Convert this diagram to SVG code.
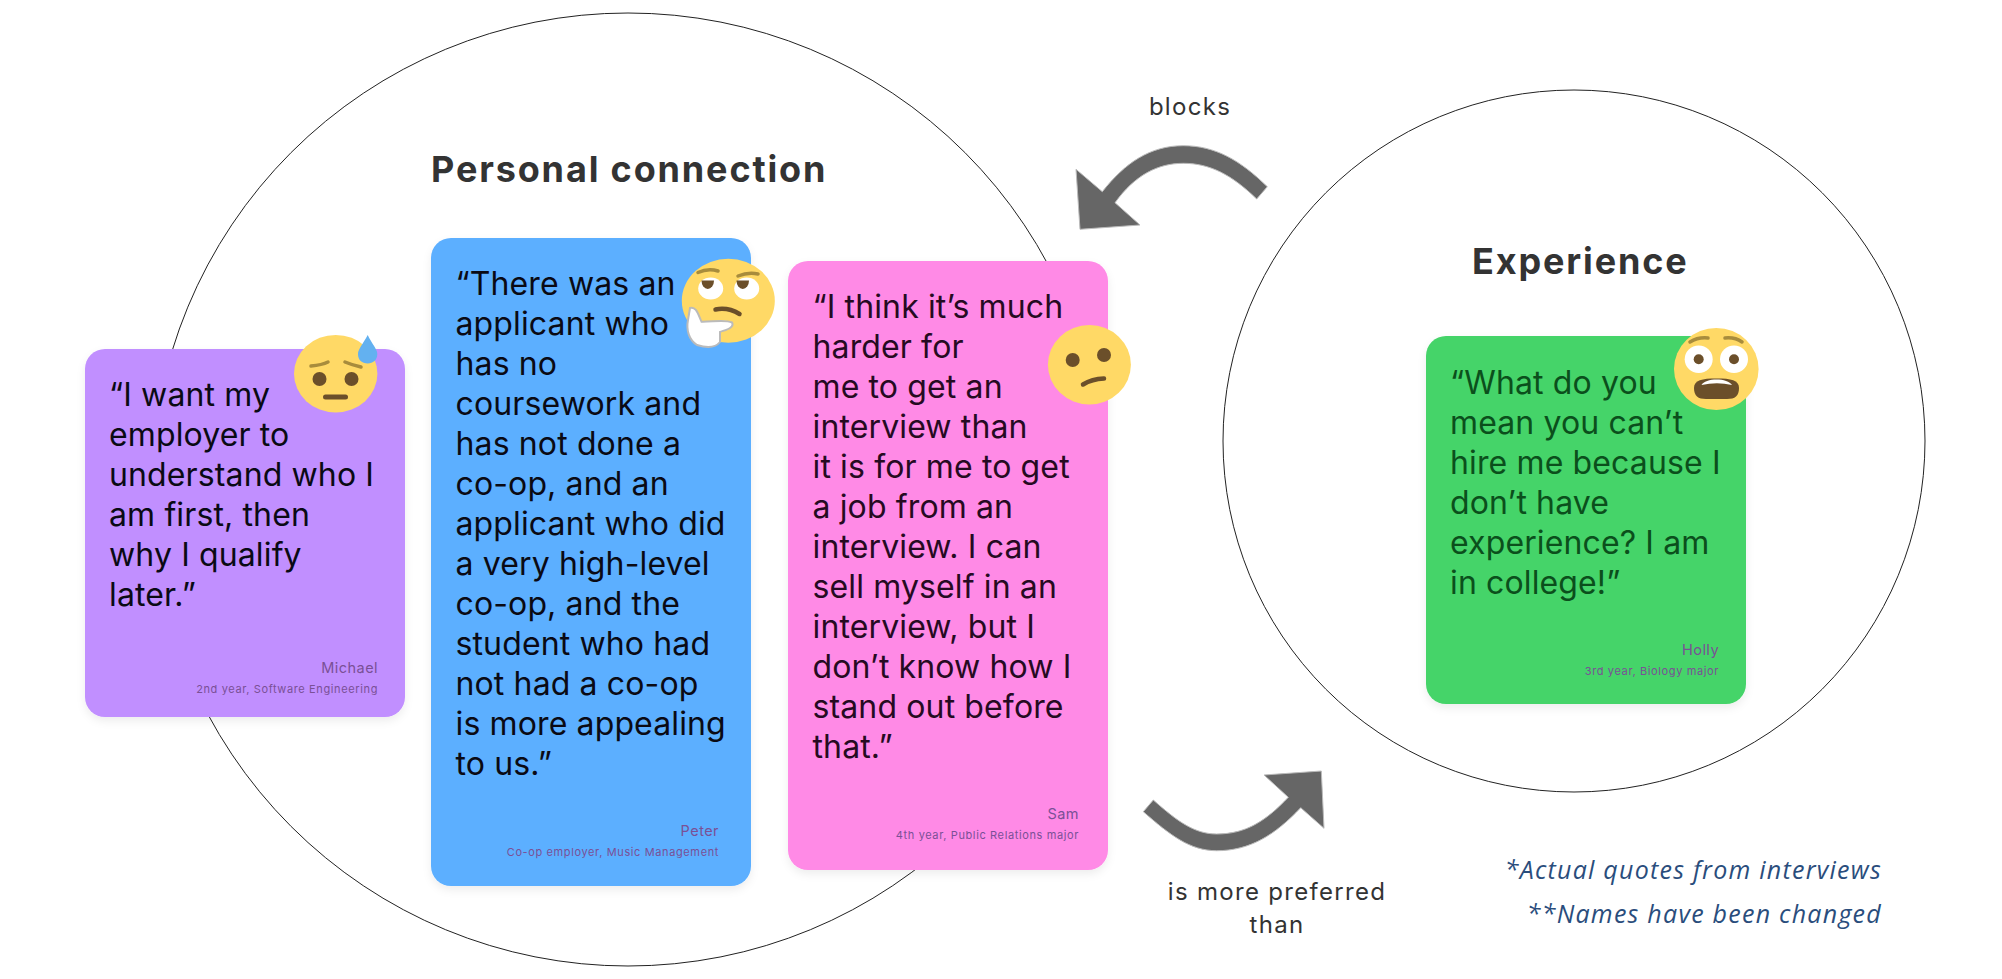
<svg xmlns="http://www.w3.org/2000/svg" width="2002" height="979" viewBox="0 0 2002 979">
<style>
.ring{fill:#fff;stroke:#222;stroke-width:1}
.card{filter:url(#sh)}
.q{font:32px "Inter","Liberation Sans",sans-serif;letter-spacing:.13px}
.n{font:14.5px "Inter","Liberation Sans",sans-serif;fill:#7a5096;text-anchor:end;letter-spacing:.45px}
.s{font:11px "Inter","Liberation Sans",sans-serif;fill:#7a5096;text-anchor:end;letter-spacing:.62px}
.t{font:700 36px "Inter","Liberation Sans",sans-serif;fill:#333;letter-spacing:1.85px}
.l{font:24px "Inter","Liberation Sans",sans-serif;fill:#333;text-anchor:middle;letter-spacing:1.3px}
.f{font:italic 25px "Open Sans","Liberation Sans",sans-serif;fill:#2a4d7c;text-anchor:end;letter-spacing:1.25px}
.arrow{fill:#666;stroke:#bbb;stroke-width:1}
.face{fill:#ffd966}
.eye{fill:#6b4f2a}
.brow{fill:none;stroke:#a88c3c;stroke-width:3.500;stroke-linecap:round}
</style>
<defs><filter id="sh" x="-10%" y="-10%" width="120%" height="120%"><feDropShadow dx="0" dy="4" stdDeviation="4" flood-color="#000" flood-opacity=".07"/></filter></defs>
<rect width="2002" height="979" fill="#fff"/>
<g id="personal-connection">
<circle class="ring" cx="628" cy="489.500" r="476.500"/>
<text class="t" x="431" y="182">Personal connection</text>
</g>
<g id="experience">
<circle class="ring" cx="1574" cy="441" r="351"/>
<text class="t" x="1472" y="274">Experience</text>
</g>
<g id="connectors">
<path class="arrow" d="M1267.3 186.7L1256.7 199C1232 175 1210 163.300 1183.300 163.300C1158 163.300 1135 175 1115 202.700L1140 225L1080 229.300L1076 169.300L1102.300 191.700C1125 163 1150 145.700 1183.300 145.700C1215 145.700 1240 160 1267.300 186.700Z"/>
<path class="arrow" d="M1153.300 800L1143.300 811.700C1170 835 1190 850.700 1216.700 850.700C1250 850.700 1275 835 1300.700 807.700L1324 828.300L1321.300 771L1264 775L1288.300 797.300C1265 822 1245 834 1216.700 834C1195 834 1178 822 1153.300 800Z"/>
<text class="l" x="1190" y="115">blocks</text>
<text class="l" x="1277" y="899.500">is more preferred</text>
<text class="l" x="1277" y="933">than</text>
</g>
<g id="card-michael">
<rect class="card" x="85" y="349" width="320" height="368" rx="20" fill="#c18fff"/>
<text class="q" x="109" y="406" fill="#0a0a14"><tspan x="109">“I want my</tspan><tspan x="109" dy="40">employer to</tspan><tspan x="109" dy="40">understand who I</tspan><tspan x="109" dy="40">am first, then</tspan><tspan x="109" dy="40">why I qualify</tspan><tspan x="109" dy="40">later.”</tspan></text>
<text class="n" x="378" y="673">Michael</text>
<text class="s" x="378" y="693">2nd year, Software Engineering</text>
<ellipse class="face" cx="335.700" cy="373.700" rx="41.700" ry="38.800"/>
<path class="brow" d="M311 366Q322 365 328 362M345 362Q352 365 361 367"/>
<circle class="eye" cx="319.500" cy="379" r="7"/><circle class="eye" cx="351.500" cy="379" r="7"/>
<rect class="eye" x="323" y="394.500" width="25" height="5" rx="2.500"/>
<path d="M367.700 335C363 344 358 349 358 354C358 360 362 363.500 367.700 363.500C373 363.500 377.300 360 377.300 354C377.300 349 372 344 367.700 335Z" fill="#63b1f0"/>
</g>
<g id="card-peter">
<rect class="card" x="431" y="238" width="320" height="648" rx="20" fill="#5cafff"/>
<text class="q" x="455.500" y="295" fill="#0a0a14"><tspan x="455.500">“There was an</tspan><tspan x="455.500" dy="40">applicant who</tspan><tspan x="455.500" dy="40">has no</tspan><tspan x="455.500" dy="40">coursework and</tspan><tspan x="455.500" dy="40">has not done a</tspan><tspan x="455.500" dy="40">co-op, and an</tspan><tspan x="455.500" dy="40">applicant who did</tspan><tspan x="455.500" dy="40">a very high-level</tspan><tspan x="455.500" dy="40">co-op, and the</tspan><tspan x="455.500" dy="40">student who had</tspan><tspan x="455.500" dy="40">not had a co-op</tspan><tspan x="455.500" dy="40">is more appealing</tspan><tspan x="455.500" dy="40">to us.”</tspan></text>
<text class="n" x="719" y="836">Peter</text>
<text class="s" x="719" y="856">Co-op employer, Music Management</text>
<ellipse class="face" cx="728.300" cy="300.700" rx="46.500" ry="42"/>
<path class="brow" d="M698 272.500Q708 268 718 271M738 276Q748 272 758 274"/>
<ellipse cx="710.700" cy="288.500" rx="12.500" ry="11" fill="#fff"/><ellipse cx="746.700" cy="288.500" rx="12.500" ry="11" fill="#fff"/>
<path class="eye" d="M701.500 280.500H714A6.250 8.500 0 0 1 701.500 280.500Z"/><path class="eye" d="M736.500 280.500H749A6.250 8.500 0 0 1 736.500 280.500Z"/>
<path d="M715.500 309.500Q728 307 739.500 314" fill="none" stroke="#6b4f2a" stroke-width="4.500" stroke-linecap="round"/>
<path d="M690 308C696 306 698 314 701.500 321.700C712 322 725 319 732 322.500C735 328 725 330 720 332L720 342C716 347 708 348.500 697 345C689 340 686 330 688 320Z" fill="#fff" stroke="#bbb" stroke-width="2"/>
</g>
<g id="card-sam">
<rect class="card" x="788" y="261" width="320" height="609" rx="20" fill="#ff8ae6"/>
<text class="q" x="812.500" y="318" fill="#260a22"><tspan x="812.500">“I think it’s much</tspan><tspan x="812.500" dy="40">harder for</tspan><tspan x="812.500" dy="40">me to get an</tspan><tspan x="812.500" dy="40">interview than</tspan><tspan x="812.500" dy="40">it is for me to get</tspan><tspan x="812.500" dy="40">a job from an</tspan><tspan x="812.500" dy="40">interview. I can</tspan><tspan x="812.500" dy="40">sell myself in an</tspan><tspan x="812.500" dy="40">interview, but I</tspan><tspan x="812.500" dy="40">don’t know how I</tspan><tspan x="812.500" dy="40">stand out before</tspan><tspan x="812.500" dy="40">that.”</tspan></text>
<text class="n" x="1079" y="819">Sam</text>
<text class="s" x="1079" y="839">4th year, Public Relations major</text>
<ellipse class="face" cx="1089.400" cy="364.700" rx="41.500" ry="39.700"/>
<circle class="eye" cx="1072.700" cy="360" r="7"/><circle class="eye" cx="1104" cy="355" r="7"/>
<path d="M1083 384.500Q1092 379 1104 378.500" fill="none" stroke="#6b4f2a" stroke-width="4.500" stroke-linecap="round"/>
</g>
<g id="card-holly">
<rect class="card" x="1426" y="336" width="320" height="368" rx="20" fill="#45d469"/>
<text class="q" x="1450" y="393.500" fill="#0b4f1c"><tspan x="1450">“What do you</tspan><tspan x="1450" dy="40">mean you can’t</tspan><tspan x="1450" dy="40">hire me because I</tspan><tspan x="1450" dy="40">don’t have</tspan><tspan x="1450" dy="40">experience? I am</tspan><tspan x="1450" dy="40">in college!”</tspan></text>
<text class="n" x="1719" y="655">Holly</text>
<text class="s" x="1719" y="675">3rd year, Biology major</text>
<ellipse class="face" cx="1716.300" cy="369" rx="42.300" ry="41"/>
<path class="brow" d="M1690 342Q1698 337 1708 338M1725 338Q1735 337 1742 342"/>
<ellipse cx="1698.700" cy="359.300" rx="14" ry="13.700" fill="#fff"/><ellipse cx="1734" cy="359.300" rx="14" ry="13.700" fill="#fff"/>
<circle class="eye" cx="1698.700" cy="359.300" r="5"/><circle class="eye" cx="1734" cy="359.300" r="5"/>
<path class="eye" d="M1694 388C1694 380 1702 378.500 1716.500 378.500C1731 378.500 1739 380 1739 388C1739 396 1735 399 1727 399L1706 399C1698 399 1694 396 1694 388Z"/>
<path d="M1701.500 385C1705 377.500 1728 377.500 1732 385Q1717 381.500 1701.500 385Z" fill="#fff"/>
</g>
<g id="notes">
<text class="f" x="1882" y="879">*Actual quotes from interviews</text>
<text class="f" x="1882" y="923">**Names have been changed</text>
</g>
</svg>
